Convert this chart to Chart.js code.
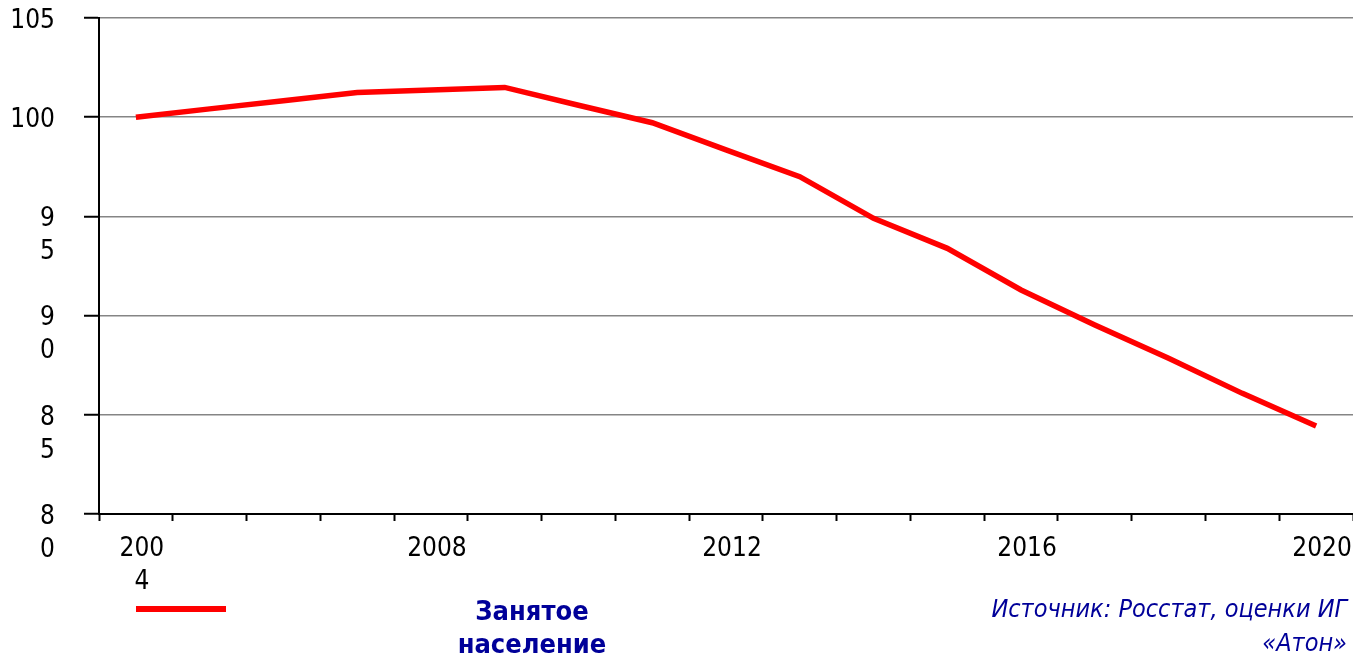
<!DOCTYPE html>
<html>
<head>
<meta charset="utf-8">
<script src="https://cdn.jsdelivr.net/npm/chart.js@4.4.1/dist/chart.umd.min.js"></script>
<style>
  html, body { margin: 0; padding: 0; background: #ffffff; overflow: hidden; }
  #wrap { width: 1353px; height: 657px; position: relative; }
  canvas { display: block; }
</style>
</head>
<body>
<div id="wrap"><canvas id="chart" width="1353" height="657"></canvas></div>
<script>
// ---- Data ----
const years = [2004, 2005, 2006, 2007, 2008, 2009, 2010, 2011, 2012, 2013, 2014, 2015, 2016, 2017, 2018, 2019, 2020];
const employed = [100.0, 100.42, 100.83, 101.25, 101.37, 101.5, 100.6, 99.72, 98.35, 97.0, 94.9, 93.39, 91.29, 89.53, 87.85, 86.08, 84.44];
const seriesName = 'Занятое население';
const legendLines = ['Занятое', 'население'];
const sourceLines = ['Источник: Росстат, оценки ИГ', '«Атон»'];

const yTickValues = [80, 85, 90, 95, 100, 105];
const yTickLabels = [['8', '0'], ['8', '5'], ['9', '0'], ['9', '5'], ['100', ''], ['105', '']];
const xLabelYears = [2004, 2008, 2012, 2016, 2020];
const xLabelTexts = [['200', '4'], '2008', '2012', '2016', '2020'];

// ---- Derived tick positions ----
const xMarkValues = years.map(y => y - 0.5).concat([years[years.length - 1] + 0.5]);
const xTickValues = xMarkValues.concat(xLabelYears).sort((a, b) => a - b);

const CONDENSED = '"DejaVu Sans Condensed", "Liberation Sans Narrow", "DejaVu Sans", sans-serif';
const TEXT_BLUE = '#000099';

const annotationPlugin = {
  id: 'legendAndSource',
  afterDraw(chart) {
    const ctx = chart.ctx;
    const ds = chart.data.datasets[0];
    ctx.save();
    // legend sample line
    ctx.strokeStyle = ds.borderColor;
    ctx.lineWidth = 6;
    ctx.lineCap = 'butt';
    ctx.beginPath();
    ctx.moveTo(136, 609);
    ctx.lineTo(226, 609);
    ctx.stroke();
    // legend text
    ctx.fillStyle = TEXT_BLUE;
    ctx.font = 'bold 27px ' + CONDENSED;
    ctx.textAlign = 'center';
    ctx.textBaseline = 'middle';
    legendLines.forEach((t, i) => ctx.fillText(t, 532, 612.7 + i * 33));
    // source
    ctx.font = 'italic 25px ' + CONDENSED;
    ctx.textAlign = 'right';
    sourceLines.forEach((t, i) => ctx.fillText(t, 1347, 610.8 + i * 33.6));
    ctx.restore();
  }
};

new Chart(document.getElementById('chart'), {
  type: 'line',
  data: {
    datasets: [{
      label: seriesName,
      data: years.map((y, i) => ({ x: y, y: employed[i] })),
      borderColor: '#ff0000',
      backgroundColor: '#ff0000',
      borderWidth: 5.5,
      pointRadius: 0,
      pointHoverRadius: 0,
      tension: 0,
      fill: false
    }]
  },
  options: {
    responsive: false,
    animation: false,
    devicePixelRatio: 1,
    layout: { padding: { top: 18, left: 0, right: 0, bottom: 0 } },
    plugins: {
      legend: { display: false },
      tooltip: { enabled: false },
      title: { display: false }
    },
    scales: {
      x: {
        type: 'linear',
        position: 'bottom',
        min: 2003.5,
        max: 2020.5,
        afterBuildTicks: (s) => { s.ticks = xTickValues.map(v => ({ value: v })); },
        afterFit: (s) => { s.height = 143; s.paddingLeft = 0; s.paddingRight = 0; },
        grid: {
          display: true,
          drawOnChartArea: false,
          drawTicks: true,
          tickLength: 7,
          tickWidth: 2,
          color: '#000000',
          tickColor: (c) => (c.tick && Number.isInteger(c.tick.value)) ? 'rgba(0,0,0,0)' : '#000000'
        },
        border: { display: true, color: '#000000', width: 2 },
        ticks: {
          autoSkip: false,
          maxRotation: 0,
          minRotation: 0,
          padding: 12,
          labelOffset: 6,
          color: '#000000',
          font: { family: CONDENSED, size: 26, lineHeight: 1.27 },
          callback: (v) => {
            const i = xLabelYears.indexOf(v);
            return i >= 0 ? xLabelTexts[i] : '';
          }
        }
      },
      y: {
        type: 'linear',
        position: 'left',
        min: 80,
        max: 105,
        afterBuildTicks: (s) => { s.ticks = yTickValues.map(v => ({ value: v })); },
        afterFit: (s) => { s.width = 99; s.paddingTop = 0; s.paddingBottom = 0; },
        grid: {
          display: true,
          drawOnChartArea: true,
          drawTicks: true,
          tickLength: 15,
          tickWidth: 2,
          tickColor: '#000000',
          lineWidth: 1.5,
          color: (c) => (c.tick && c.tick.value === 80) ? 'rgba(0,0,0,0)' : '#858585'
        },
        border: { display: true, color: '#000000', width: 2 },
        ticks: {
          autoSkip: false,
          padding: 29,
          labelOffset: 19.5,
          color: '#000000',
          font: { family: CONDENSED, size: 26, lineHeight: 1.27 },
          callback: (v) => {
            const i = yTickValues.indexOf(v);
            return i >= 0 ? yTickLabels[i] : '';
          }
        }
      }
    }
  },
  plugins: [annotationPlugin]
});
</script>
</body>
</html>
